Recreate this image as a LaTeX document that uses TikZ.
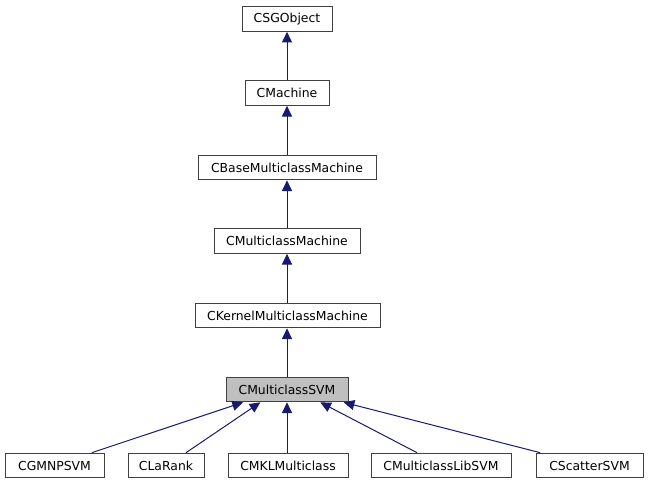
\documentclass[tikz,border=0pt]{standalone}
\usepackage{fontspec}
\setmainfont{DejaVu Sans}
\usetikzlibrary{arrows.meta}
\definecolor{edgeblue}{RGB}{25,25,112}
\definecolor{boxgray}{RGB}{191,191,191}
\begin{document}
\begin{tikzpicture}[x=0.75pt,y=-0.75pt,
  cls/.style={draw=black!75,line width=0.75pt,fill=white,inner sep=0pt,minimum height=18.5pt,font=\fontsize{9.3pt}{10pt}\selectfont},
  edge/.style={draw=edgeblue,line width=0.75pt,-{Triangle[length=8pt,width=7.5pt]},shorten >=0pt}]
\useasboundingbox (0,0) rectangle (648,485);
\node[cls,minimum width=67.5pt] (so) at (287,19) {CSGObject};
\node[cls,minimum width=63pt] (ma) at (287,93) {CMachine};
\node[cls,minimum width=133.5pt] (bm) at (287,167.5) {CBaseMulticlassMachine};
\node[cls,minimum width=109.5pt] (mm) at (287,241) {CMulticlassMachine};
\node[cls,minimum width=138.75pt] (km) at (287.5,315.5) {CKernelMulticlassMachine};
\node[cls,minimum width=91.5pt,fill=boxgray] (svm) at (287,389.5) {CMulticlassSVM};
\node[cls,minimum width=74.25pt] (gm) at (54.5,465.5) {CGMNPSVM};
\node[cls,minimum width=57pt] (lr) at (166,465.5) {CLaRank};
\node[cls,minimum width=90pt] (mkl) at (288,465.5) {CMKLMulticlass};
\node[cls,minimum width=105pt] (lib) at (441,465.5) {CMulticlassLibSVM};
\node[cls,minimum width=80.25pt] (sc) at (589.5,465.5) {CScatterSVM};
\draw[edge] (ma.north) -- (so.south);
\draw[edge] (bm.north) -- (ma.south);
\draw[edge] (mm.north) -- (bm.south);
\draw[edge] (km.north -| mm.south) -- (mm.south);
\draw[edge] (svm.north) -- (svm.north |- km.south);
\draw[edge] ([xshift=28pt]gm.north) -- ([xshift=-33pt]svm.south);
\draw[edge] ([xshift=15pt]lr.north) -- ([xshift=-20pt]svm.south);
\draw[edge] (mkl.north -| svm.south) -- (svm.south);
\draw[edge] ([xshift=-18pt]lib.north) -- ([xshift=25pt]svm.south);
\draw[edge] ([xshift=-37pt]sc.north) -- ([xshift=42.5pt]svm.south);
\end{tikzpicture}
\end{document}
